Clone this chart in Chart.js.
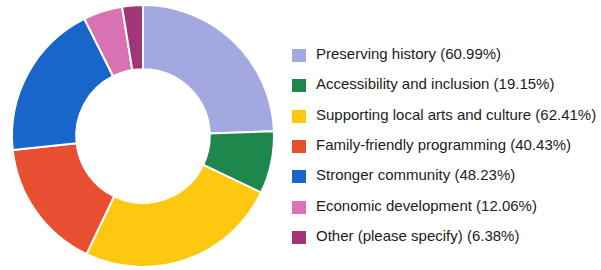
<!DOCTYPE html>
<html>
<head>
<meta charset="utf-8">
<script src="https://cdn.jsdelivr.net/npm/chart.js@4"></script>
<style>
  html, body { margin: 0; padding: 0; background: #fff; }
  #wrap { position: relative; width: 601px; height: 270px; overflow: hidden; }
  #donut { position: absolute; left: 0; top: 0; width: 286px; height: 270px; }
  #legenda { position: absolute; left: 292px; top: 0; margin: 0; padding: 0; list-style: none;
    font-family: "Liberation Sans", Arial, Helvetica, sans-serif; font-size: 15px; color: #1c1c1c; }
  #legenda li { position: absolute; left: 0; white-space: nowrap; height: 18px; line-height: 18px; }
  #legenda span.caixa { position: absolute; left: 0; top: 4px; width: 14px; height: 13px; }
  #legenda span.txt { position: absolute; left: 24px; top: 0; }
</style>
</head>
<body>
<div id="wrap">
  <div id="donut"><canvas id="grafico"></canvas></div>
  <ul id="legenda"></ul>
</div>
<script>
// categorias e porcentagens
const categorias = [
  'Preserving history',
  'Accessibility and inclusion',
  'Supporting local arts and culture',
  'Family-friendly programming',
  'Stronger community',
  'Economic development',
  'Other (please specify)'
];
const porcentagens = [60.99, 19.15, 62.41, 40.43, 48.23, 12.06, 6.38];
const cores = ['#a3a8e1', '#1e874b', '#fec810', '#e84f30', '#1866c9', '#d872b2', '#a23478'];

// legenda em HTML
const ul = document.getElementById('legenda');
categorias.forEach((cat, i) => {
  const li = document.createElement('li');
  li.style.top = (45 + i * 30.3) + 'px';
  li.innerHTML = '<span class="caixa" style="background:' + cores[i] + '"></span>' +
    '<span class="txt">' + cat + ' (' + porcentagens[i].toFixed(2) + '%)</span>';
  ul.appendChild(li);
});

const ctx = document.getElementById('grafico');
new Chart(ctx, {
  type: 'doughnut',
  data: {
    labels: categorias,
    datasets: [{
      data: porcentagens,
      backgroundColor: cores,
      borderColor: '#fff',
      borderWidth: 2
    }]
  },
  options: {
    responsive: true,
    maintainAspectRatio: false,
    animation: false,
    cutout: '51%',
    layout: { padding: { top: 4, bottom: 2, left: 10, right: 10 } },
    plugins: {
      legend: { display: false },
      tooltip: { enabled: false }
    }
  }
});
</script>
</body>
</html>
